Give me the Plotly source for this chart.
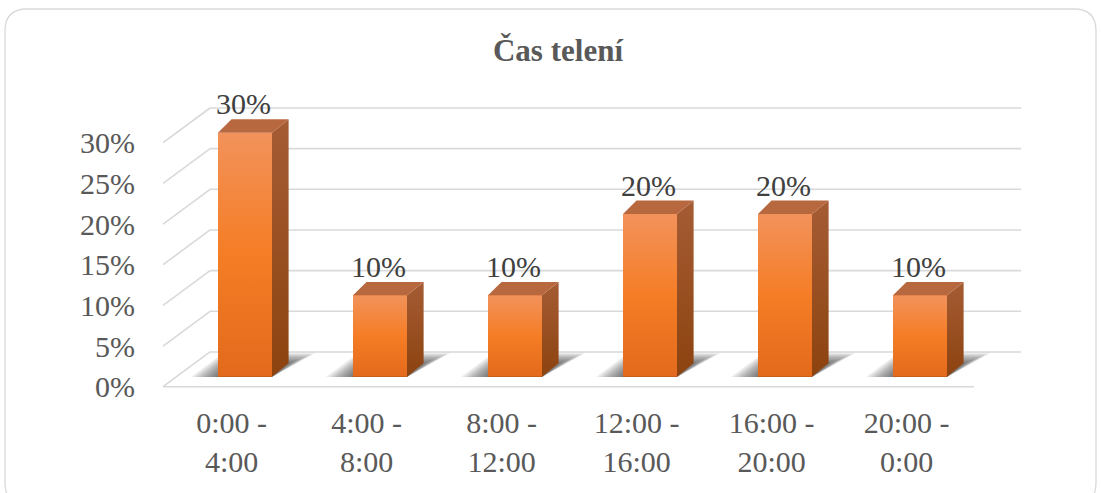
import plotly.graph_objects as go

# ---------------- data ----------------
categories = ["0:00 -<br>4:00", "4:00 -<br>8:00", "8:00 -<br>12:00",
              "12:00 -<br>16:00", "16:00 -<br>20:00", "20:00 -<br>0:00"]
values = [30, 10, 10, 20, 20, 10]
value_labels = ["30%", "10%", "10%", "20%", "20%", "10%"]
y_ticks = [0, 5, 10, 15, 20, 25, 30]
y_tick_labels = ["0%", "5%", "10%", "15%", "20%", "25%", "30%"]
title = "Čas telení"

# ---------------- layout / style constants ----------------
W, H = 1101, 493
ML, MR, MT, MB = 140, 71, 60, 93
X0_PX, CAT_PX = 245.0, 135.0      # pixel of category 0, pixels per category
Y0_PX, PCT_PX = 376.7, 8.133      # pixel of 0 %, pixels per percent
xr = [(ML - X0_PX) / CAT_PX, (W - MR - X0_PX) / CAT_PX]
yr = [(Y0_PX - (H - MB)) / PCT_PX, (Y0_PX - MT) / PCT_PX]

BAR_W = 0.4
DL, DR, DY = 0.10, 0.123, 1.65          # bar depth (pseudo 3D)
BACK_DX, BACK_DY = 0.249, 3.04          # back wall offset
FRONT_DX, FRONT_DY = -0.099, -1.23      # floor front edge offset
WALL_L, WALL_R = -0.508, 5.50

FONT = "Liberation Serif, Times New Roman, serif"
TXT = "#595959"
GRID = "#D9D9D9"

xs = list(range(len(categories)))
hw = BAR_W / 2

fig = go.Figure()

# ---------------- soft shadows (layered) ----------------
N_LAYERS = 9
for k in range(N_LAYERS):
    f = 1 - k / (N_LAYERS - 1)          # 1 -> 0 (outer -> inner)
    ex, ey, op = 0.02 + 0.18 * f, 0.1 + 1.2 * f, 0.075
    for x in xs:
        fig.add_trace(go.Scatter(
            x=[x - hw - ex, x + hw, x + hw + DR + ex, x - hw + DL - ex * 0.3, x - hw - ex],
            y=[-0.05, -0.05, DY + ey, DY + ey, -0.05],
            mode="lines", fill="toself", fillcolor=f"rgba(0,0,0,{op})",
            line=dict(width=0), hoverinfo="skip", showlegend=False))

# ---------------- bar front faces ----------------
fig.add_trace(go.Bar(x=xs, y=values, width=BAR_W, marker=dict(color="#F47E27", line=dict(width=0)),
                     hovertext=[c.replace("<br>", " ") for c in categories],
                     hoverinfo="text+y", showlegend=False))

for x, v in zip(xs, values):
    # gradient front
    fig.add_trace(go.Scatter(
        x=[x - hw, x + hw, x + hw, x - hw, x - hw], y=[0, 0, v, v, 0],
        mode="lines", fill="toself", line=dict(width=0),
        fillgradient=dict(type="vertical", start=0, stop=v,
                          colorscale=[[0, "#E36A1C"], [0.5, "#F57D25"], [1, "#F2925B"]]),
        hoverinfo="skip", showlegend=False))
    # side face
    fig.add_trace(go.Scatter(
        x=[x + hw, x + hw + DR, x + hw + DR, x + hw, x + hw], y=[0, DY, v + DY, v, 0],
        mode="lines", fill="toself", line=dict(width=0),
        fillgradient=dict(type="vertical", start=0, stop=v + DY,
                          colorscale=[[0, "#8C430F"], [1, "#A65C34"]]),
        hoverinfo="skip", showlegend=False))
    # top face
    fig.add_trace(go.Scatter(
        x=[x - hw, x + hw, x + hw + DR, x - hw + DL, x - hw], y=[v, v, v + DY, v + DY, v],
        mode="lines", fill="toself", fillcolor="#B8683F", line=dict(width=0),
        hoverinfo="skip", showlegend=False))

# ---------------- gridlines (back wall, left wall, floor) ----------------
shapes = []
for t in y_ticks:
    shapes.append(dict(type="line", layer="below", xref="x", yref="y",
                       x0=WALL_L + BACK_DX, y0=t + BACK_DY, x1=WALL_R + BACK_DX, y1=t + BACK_DY,
                       line=dict(color=GRID, width=1.6)))
    shapes.append(dict(type="line", layer="below", xref="x", yref="y",
                       x0=WALL_L + FRONT_DX, y0=t + FRONT_DY, x1=WALL_L + BACK_DX, y1=t + BACK_DY,
                       line=dict(color=GRID, width=1.6)))
shapes.append(dict(type="line", layer="below", xref="x", yref="y",
                   x0=WALL_L + FRONT_DX, y0=FRONT_DY, x1=WALL_R + FRONT_DX, y1=FRONT_DY,
                   line=dict(color=GRID, width=1.6)))

# ---------------- chart border (rounded) ----------------
pw, ph = W - ML - MR, H - MT - MB
def px(xp): return (xp - ML) / pw
def py(yp): return 1 - (yp - MT) / ph
bx0, by0, bx1, by1, rr = 5, 9, 1096, 505, 22
path = (f"M {px(bx0+rr)} {py(by0)} L {px(bx1-rr)} {py(by0)} "
        f"Q {px(bx1)} {py(by0)} {px(bx1)} {py(by0+rr)} L {px(bx1)} {py(by1-rr)} "
        f"Q {px(bx1)} {py(by1)} {px(bx1-rr)} {py(by1)} L {px(bx0+rr)} {py(by1)} "
        f"Q {px(bx0)} {py(by1)} {px(bx0)} {py(by1-rr)} L {px(bx0)} {py(by0+rr)} "
        f"Q {px(bx0)} {py(by0)} {px(bx0+rr)} {py(by0)} Z")
shapes.append(dict(type="path", xref="paper", yref="paper", path=path, layer="below",
                   line=dict(color=GRID, width=1.3)))

# ---------------- data labels ----------------
annotations = []
for x, v, lab in zip(xs, values, value_labels):
    annotations.append(dict(x=x - 0.01, y=v + DY, xref="x", yref="y", text=lab, showarrow=False,
                            yanchor="bottom", yshift=-3,
                            font=dict(family=FONT, size=30, color="#404040")))

fig.update_layout(
    width=W, height=H,
    margin=dict(l=ML, r=MR, t=MT, b=MB),
    paper_bgcolor="white", plot_bgcolor="white",
    title=dict(text=f"<b>{title}</b>", x=558 / W, xanchor="center", y=1 - 50 / H, yanchor="middle",
               yref="container", font=dict(family=FONT, size=31, color=TXT)),
    xaxis=dict(range=xr, tickvals=[x + FRONT_DX for x in xs], ticktext=categories,
               showgrid=False, zeroline=False, showline=False, ticks="",
               tickfont=dict(family=FONT, size=30, color=TXT), ticklabelstandoff=2),
    yaxis=dict(range=yr, tickvals=[t + FRONT_DY for t in y_ticks], ticktext=y_tick_labels,
               showgrid=False, zeroline=False, showline=False, ticks="",
               tickfont=dict(family=FONT, size=30, color=TXT), ticklabelstandoff=4),
    shapes=shapes, annotations=annotations,
    showlegend=False, bargap=0,
)

fig.write_html("out.html")
